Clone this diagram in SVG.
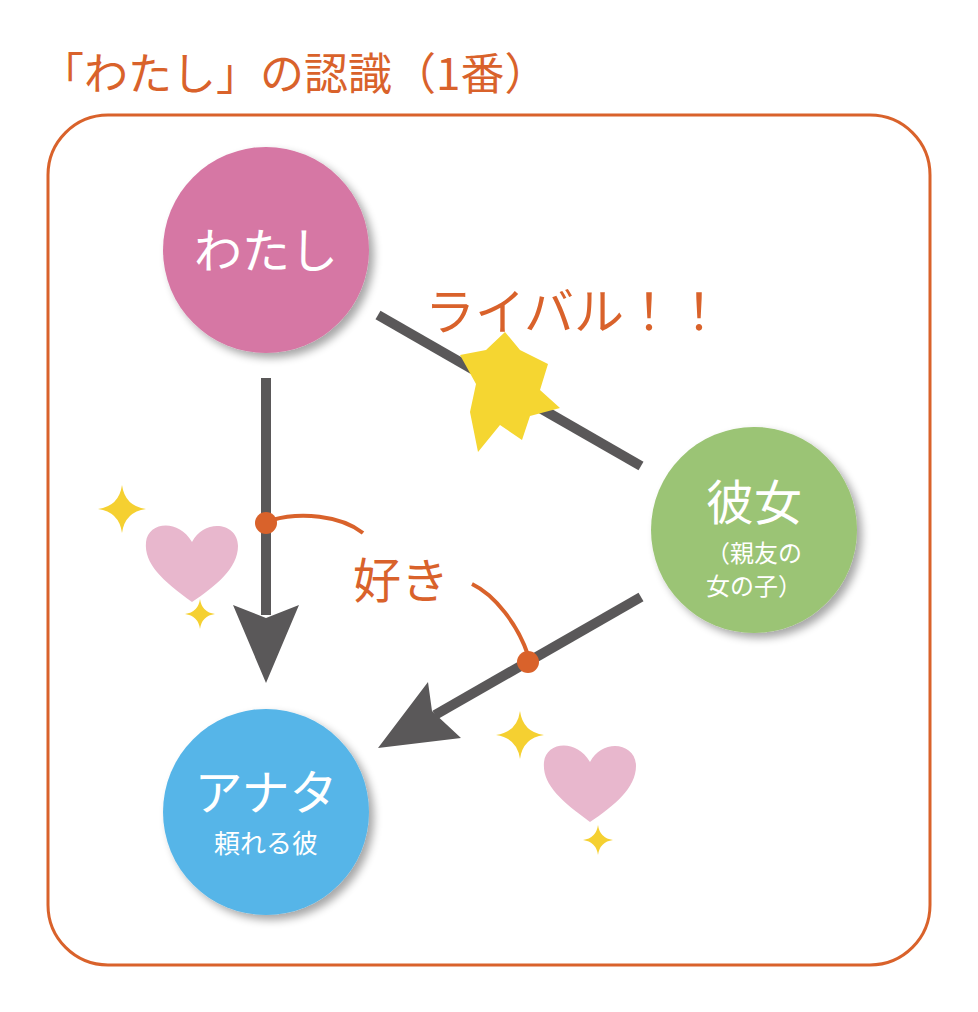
<svg xmlns="http://www.w3.org/2000/svg" width="978" height="1012" viewBox="0 0 978 1012">
<defs>
<filter id="sh" x="-20%" y="-20%" width="150%" height="150%"><feGaussianBlur in="SourceAlpha" stdDeviation="4"/><feOffset dx="5" dy="5"/><feComponentTransfer><feFuncA type="linear" slope="0.35"/></feComponentTransfer><feMerge><feMergeNode/><feMergeNode in="SourceGraphic"/></feMerge></filter>
<path id="spark" d="M0,-1 Q0.12,-0.12 1,0 Q0.12,0.12 0,1 Q-0.12,0.12 -1,0 Q-0.12,-0.12 0,-1Z" fill="#f5d031"/>
<path id="heart" d="M0,42 C-30,20 -48,4 -46,-18 C-44,-38 -14,-42 0,-18 C12,-42 46,-38 46,-14 C46,8 24,26 0,42Z" fill="#e8b7cd"/>
</defs>
<style>
text{font-family:"Noto Sans CJK JP","Noto Sans",sans-serif}
.or{fill:#d9622b}
.ln{stroke:#5a5859;stroke-width:10;fill:none}
.cv{stroke:#d9622b;stroke-width:4;fill:none}
.w{fill:#fff;text-anchor:middle}
</style>
<text x="40" y="90" class="or" font-size="44">「わたし」の認識（1番）</text>
<rect x="48" y="115" width="882" height="850" rx="60" fill="none" stroke="#d9622b" stroke-width="3"/>
<g id="connectors">
<line class="ln" x1="378" y1="315" x2="641" y2="466"/>
<line class="ln" x1="266" y1="378" x2="266" y2="615"/>
<path d="M266,683 L233,605 L266,618 L299,605Z" fill="#5a5859"/>
<line class="ln" x1="641" y1="597" x2="435" y2="715"/>
<path d="M378,748 L428,682 L432,711 L461,738Z" fill="#5a5859"/>
<path d="M478,452 L470,412 L476,384 L460,355 L486,350 L505,332 L520,350 L548,364 L540,390 L560,408 L530,416 L522,440 L500,425Z" fill="#f5d631"/>
<circle cx="266" cy="523" r="11" fill="#d9622b"/>
<circle cx="528" cy="662" r="11" fill="#d9622b"/>
<path class="cv" d="M272,520 C300,512 340,515 363,533"/>
<path class="cv" d="M472,584 C495,595 518,625 528,655"/>
</g>
<text x="425" y="330" class="or" font-size="50">ライバル！！</text>
<text x="353" y="598" class="or" font-size="48">好き</text>
<g id="watashi"><circle cx="266" cy="250" r="103" fill="#d677a4" filter="url(#sh)"/><text x="266" y="268" class="w" font-size="48">わたし</text></g>
<g id="kanojo"><circle cx="754" cy="530" r="103" fill="#9bc474" filter="url(#sh)"/><text x="754" y="520" class="w" font-size="48">彼女</text><text x="754" y="562" class="w" font-size="24">（親友の</text><text x="754" y="595" class="w" font-size="24">女の子）</text></g>
<g id="anata"><circle cx="266" cy="812" r="103" fill="#56b5e8" filter="url(#sh)"/><text x="266" y="810" class="w" font-size="48">アナタ</text><text x="266" y="853" class="w" font-size="26">頼れる彼</text></g>
<use href="#heart" transform="translate(192,560)"/>
<use href="#heart" transform="translate(590,780)"/>
<use href="#spark" transform="translate(122,509) scale(24)"/>
<use href="#spark" transform="translate(200,614) scale(15)"/>
<use href="#spark" transform="translate(520,735) scale(24)"/>
<use href="#spark" transform="translate(598,840) scale(15)"/>
</svg>
